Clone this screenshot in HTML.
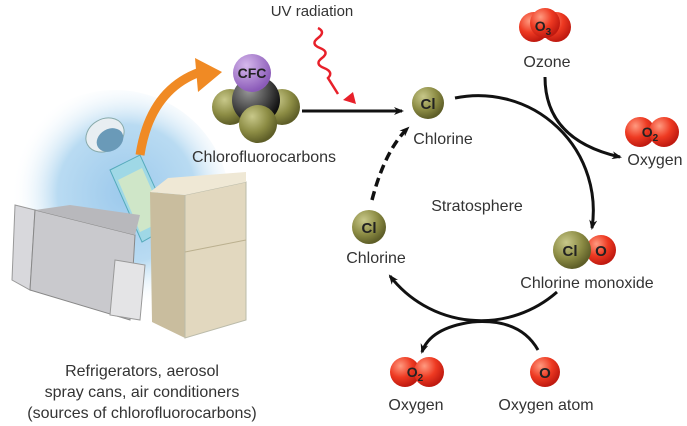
<!DOCTYPE html>
<html><head><meta charset="utf-8"><style>
body{margin:0;background:#fff}
svg{display:block;font-family:"Liberation Sans","DejaVu Sans",sans-serif}
</style></head><body>
<svg width="687" height="426" viewBox="0 0 687 426" xmlns="http://www.w3.org/2000/svg">
<defs>
<radialGradient id="glow" cx="0.55" cy="0.45" r="0.5">
<stop offset="0" stop-color="#9cc9ec"/><stop offset="0.6" stop-color="#b9dbf2"/><stop offset="1" stop-color="#fff" stop-opacity="0"/></radialGradient>
<radialGradient id="ol" cx="0.35" cy="0.3" r="0.7"><stop offset="0" stop-color="#c8c88a"/><stop offset="0.6" stop-color="#8c8c44"/><stop offset="1" stop-color="#5e5e28"/></radialGradient>
<radialGradient id="rd" cx="0.35" cy="0.3" r="0.7"><stop offset="0" stop-color="#ff9a80"/><stop offset="0.55" stop-color="#ee3a22"/><stop offset="1" stop-color="#c01a10"/></radialGradient>
<radialGradient id="pu" cx="0.35" cy="0.3" r="0.7"><stop offset="0" stop-color="#d6b8ec"/><stop offset="1" stop-color="#8a5ab8"/></radialGradient>
<radialGradient id="bk" cx="0.35" cy="0.3" r="0.7"><stop offset="0" stop-color="#999"/><stop offset="1" stop-color="#111"/></radialGradient>
<marker id="ah" markerWidth="10" markerHeight="8" refX="8" refY="4" orient="auto" markerUnits="userSpaceOnUse"><path d="M0,0 L10,4 L0,8 L3,4z" fill="#111"/></marker>
</defs>
<ellipse cx="115" cy="205" rx="115" ry="115" fill="url(#glow)"/>
<!-- orange arrow -->
<path d="M140,155 Q150,90 200,72" stroke="#f08a24" stroke-width="9" fill="none"/>
<path d="M195,58 L222,72 L198,92z" fill="#f08a24"/>
<!-- spray can cap -->
<ellipse cx="105" cy="135" rx="20" ry="16" fill="#e8eef2" stroke="#8aa" transform="rotate(-30 105 135)"/>
<ellipse cx="110" cy="140" rx="14" ry="11" fill="#6a9ab8" transform="rotate(-30 110 140)"/>
<!-- can -->
<polygon points="110,170 140,155 172,225 142,242" fill="#9fd8e6" stroke="#5ab"/>
<polygon points="118,180 142,168 165,220 140,232" fill="#cfe6c8"/>
<!-- AC -->
<polygon points="15,205 35,210 30,290 12,280" fill="#d8d8dc" stroke="#999"/>
<polygon points="35,210 135,235 130,320 30,290" fill="#c9c9cd" stroke="#888"/>
<polygon points="35,210 70,205 140,215 135,235" fill="#b8b8bc"/>
<polygon points="115,260 145,265 140,320 110,315" fill="#e4e4e6" stroke="#999"/>
<!-- fridge -->
<polygon points="150,192 185,195 185,338 152,322" fill="#c9bd9e"/>
<polygon points="185,195 246,182 246,320 185,338" fill="#e2d8bf" stroke="#bba"/>
<polygon points="150,192 168,178 246,172 246,182 185,195" fill="#efe8d5"/>
<line x1="185" y1="252" x2="246" y2="240" stroke="#bbb08f"/>
<!-- CFC molecule -->
<circle cx="230" cy="107" r="18" fill="url(#ol)"/>
<circle cx="282" cy="107" r="18" fill="url(#ol)"/>
<circle cx="256" cy="100" r="24" fill="url(#bk)"/>
<circle cx="258" cy="124" r="19" fill="url(#ol)"/>
<circle cx="252" cy="73" r="19" fill="url(#pu)"/>
<text x="252" y="78" font-size="14" font-weight="bold" text-anchor="middle" fill="#222">CFC</text>
<text x="264" y="162" font-size="16" text-anchor="middle" fill="#333">Chlorofluorocarbons</text>
<!-- UV -->
<text x="312" y="16" font-size="15" text-anchor="middle" fill="#333">UV radiation</text>
<path d="M318,28 q8,4 0,10 q-8,6 2,10 q10,4 2,10 q-8,6 2,10 q10,4 4,10 l10,16" stroke="#e8202a" stroke-width="2.5" fill="none"/>
<path d="M343,100 l10,-8 l3,12z" fill="#e8202a"/>
<!-- main arrow -->
<line x1="302" y1="111" x2="402" y2="111" stroke="#111" stroke-width="3" marker-end="url(#ah)"/>
<!-- cycle -->
<path d="M455,98 A115,115 0 0 1 592,228" stroke="#111" stroke-width="3" fill="none" marker-end="url(#ah)"/>
<path d="M557,292 A115,115 0 0 1 390,276" stroke="#111" stroke-width="3" fill="none" marker-end="url(#ah)"/>
<path d="M372,200 Q385,150 408,128" stroke="#111" stroke-width="3.5" stroke-dasharray="9,5" fill="none" marker-end="url(#ah)"/>
<path d="M545,77 Q545,140 620,157" stroke="#111" stroke-width="3" fill="none" marker-end="url(#ah)"/>
<path d="M538,350 Q520,318 472,322 Q430,328 422,352" stroke="#111" stroke-width="3" fill="none" marker-end="url(#ah)"/>
<!-- atoms -->
<circle cx="428" cy="103" r="16" fill="url(#ol)"/><text x="428" y="109" font-size="15" font-weight="bold" text-anchor="middle" fill="#222">Cl</text>
<text x="443" y="144" font-size="16" text-anchor="middle" fill="#333">Chlorine</text>
<circle cx="369" cy="227" r="17" fill="url(#ol)"/><text x="369" y="233" font-size="15" font-weight="bold" text-anchor="middle" fill="#222">Cl</text>
<text x="376" y="263" font-size="16" text-anchor="middle" fill="#333">Chlorine</text>
<text x="477" y="211" font-size="16" text-anchor="middle" fill="#333">Stratosphere</text>
<circle cx="601" cy="250" r="15" fill="url(#rd)"/>
<circle cx="572" cy="250" r="19" fill="url(#ol)"/>
<text x="570" y="256" font-size="15" font-weight="bold" text-anchor="middle" fill="#222">Cl</text>
<text x="601" y="256" font-size="15" font-weight="bold" text-anchor="middle" fill="#222">O</text>
<text x="587" y="288" font-size="16" text-anchor="middle" fill="#333">Chlorine monoxide</text>
<circle cx="534" cy="27" r="15" fill="url(#rd)"/><circle cx="556" cy="27" r="15" fill="url(#rd)"/><circle cx="545" cy="23" r="15" fill="url(#rd)"/>
<text x="543" y="31" font-size="14" font-weight="bold" text-anchor="middle" fill="#222">O<tspan font-size="10" dy="4">3</tspan></text>
<text x="547" y="67" font-size="16" text-anchor="middle" fill="#333">Ozone</text>
<circle cx="640" cy="132" r="15" fill="url(#rd)"/><circle cx="664" cy="132" r="15" fill="url(#rd)"/>
<text x="650" y="137" font-size="14" font-weight="bold" text-anchor="middle" fill="#222">O<tspan font-size="10" dy="4">2</tspan></text>
<text x="655" y="165" font-size="16" text-anchor="middle" fill="#333">Oxygen</text>
<circle cx="405" cy="372" r="15" fill="url(#rd)"/><circle cx="429" cy="372" r="15" fill="url(#rd)"/>
<text x="415" y="377" font-size="14" font-weight="bold" text-anchor="middle" fill="#222">O<tspan font-size="10" dy="4">2</tspan></text>
<text x="416" y="410" font-size="16" text-anchor="middle" fill="#333">Oxygen</text>
<circle cx="545" cy="372" r="15" fill="url(#rd)"/>
<text x="545" y="378" font-size="15" font-weight="bold" text-anchor="middle" fill="#222">O</text>
<text x="546" y="410" font-size="16" text-anchor="middle" fill="#333">Oxygen atom</text>
<!-- source caption -->
<text x="142" y="376" font-size="16" text-anchor="middle" fill="#333">Refrigerators, aerosol</text>
<text x="142" y="397" font-size="16" text-anchor="middle" fill="#333">spray cans, air conditioners</text>
<text x="142" y="418" font-size="16" text-anchor="middle" fill="#333">(sources of chlorofluorocarbons)</text>
</svg>
</body></html>
